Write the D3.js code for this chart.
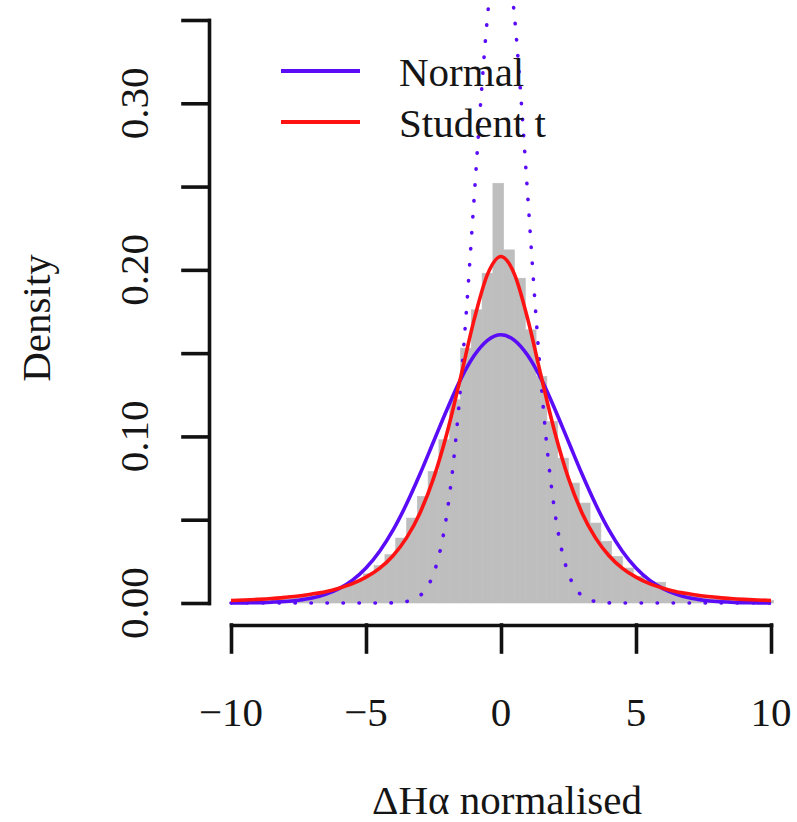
<!DOCTYPE html>
<html>
<head>
<meta charset="utf-8">
<script src="https://cdn.jsdelivr.net/npm/d3@7"></script>
<style>
  html, body { margin: 0; padding: 0; background: #ffffff; }
  svg { display: block; }
  text { font-family: "Liberation Serif", "Times New Roman", serif; fill: #151515; }
</style>
</head>
<body>
<script>
// Histogram of normalised ΔHα: bin edges and densities
const histBreaks = [-9.9, -9.5, -9.1, -8.7, -8.3, -7.9, -7.5, -7.1, -6.7, -6.3,
  -5.9, -5.5, -5.1, -4.7, -4.3, -3.9, -3.5, -3.1, -2.7, -2.3,
  -1.9, -1.5, -1.1, -0.7, -0.3, 0.1, 0.5, 0.9, 1.3, 1.7,
  2.1, 2.5, 2.9, 3.3, 3.7, 4.1, 4.5, 4.9, 5.3, 5.7,
  6.1, 6.5, 6.9, 7.3, 7.7, 8.1, 8.5, 8.9, 9.3, 9.7, 10.1];
const histDensity = [0.0016, 0.0018, 0.0021, 0.0025, 0.0030, 0.0035, 0.0044, 0.0052, 0.0063, 0.0080,
  0.0102, 0.0135, 0.0175, 0.0225, 0.0290, 0.0390, 0.0510, 0.0640, 0.0790, 0.0980,
  0.1220, 0.1530, 0.1760, 0.1980, 0.2520, 0.2120, 0.1950, 0.1640, 0.1360, 0.1090,
  0.0870, 0.0720, 0.0600, 0.0480, 0.0370, 0.0280, 0.0210, 0.0160, 0.0130, 0.0125,
  0.0072, 0.0060, 0.0047, 0.0040, 0.0033, 0.0027, 0.0023, 0.0019, 0.0016, 0.0015];

// Fitted density curves sampled along x
const curveX = [-10, -9.5, -9, -8.5, -8, -7.5, -7, -6.5, -6, -5.5, -5, -4.5, -4, -3.5, -3, -2.5, -2, -1.5, -1, -0.5,
  0, 0.5, 1, 1.5, 2, 2.5, 3, 3.5, 4, 4.5, 5, 5.5, 6, 6.5, 7, 7.5, 8, 8.5, 9, 9.5, 10];
const normalFit = [0.0000, 0.0001, 0.0002, 0.0005, 0.0009, 0.0017, 0.0030, 0.0052, 0.0086, 0.0137,
  0.0210, 0.0309, 0.0437, 0.0594, 0.0774, 0.0968, 0.1162, 0.1341, 0.1484, 0.1577,
  0.1610, 0.1577, 0.1484, 0.1341, 0.1162, 0.0968, 0.0774, 0.0594, 0.0437, 0.0309,
  0.0210, 0.0137, 0.0086, 0.0052, 0.0030, 0.0017, 0.0009, 0.0005, 0.0002, 0.0001, 0.0000];
const studentFit = [0.0015, 0.0018, 0.0022, 0.0027, 0.0034, 0.0042, 0.0054, 0.0068, 0.0089, 0.0116,
  0.0155, 0.0208, 0.0284, 0.0391, 0.0541, 0.0748, 0.1021, 0.1352, 0.1698, 0.1973,
  0.2080, 0.1973, 0.1698, 0.1352, 0.1021, 0.0748, 0.0541, 0.0391, 0.0284, 0.0208,
  0.0155, 0.0116, 0.0089, 0.0068, 0.0054, 0.0042, 0.0034, 0.0027, 0.0022, 0.0018, 0.0015];

// Unit normal reference curve (dotted)
const refX = [-10, -6, -4.5, -4, -3.5, -3, -2.75, -2.5, -2.25, -2, -1.75, -1.5, -1.25, -1, -0.75, -0.5, -0.25,
  0, 0.25, 0.5, 0.75, 1, 1.25, 1.5, 1.75, 2, 2.25, 2.5, 2.75, 3, 3.5, 4, 4.5, 6, 10];
const refNormal = [0, 0, 0, 0.0001, 0.0009, 0.0044, 0.0091, 0.0175, 0.0317, 0.0540, 0.0863, 0.1295, 0.1826,
  0.2420, 0.3011, 0.3521, 0.3867, 0.3989, 0.3867, 0.3521, 0.3011, 0.2420, 0.1826, 0.1295, 0.0863,
  0.0540, 0.0317, 0.0175, 0.0091, 0.0044, 0.0009, 0.0001, 0, 0, 0];

// Axis ticks and labels
const xTickValues = [-10, -5, 0, 5, 10];
const xTickLabels = ["\u221210", "\u22125", "0", "5", "10"];
const yTickValues = [0, 0.05, 0.10, 0.15, 0.20, 0.25, 0.30, 0.35];
const yLabelValues = [0, 0.10, 0.20, 0.30];
const yTickLabels = ["0.00", "0.10", "0.20", "0.30"];

const legendNames = ["Normal", "Student t"];
const legendColors = ["#5a0cf7", "#ff1212"];

const W = 797, H = 822;
const FS = 41;
const svg = d3.select("body").append("svg").attr("width", W).attr("height", H);
svg.append("rect").attr("width", W).attr("height", H).attr("fill", "#ffffff");

const x = d3.scaleLinear().domain([-10, 10]).range([231, 771]);
const y = d3.scaleLinear().domain([0, 0.35]).range([603, 20]);

// Histogram bars
const bins = histDensity.map((d, i) => ({ x0: histBreaks[i], x1: histBreaks[i + 1], d }));
svg.append("g").selectAll("rect").data(bins).join("rect")
  .attr("x", b => x(b.x0))
  .attr("y", b => y(b.d))
  .attr("width", b => x(b.x1) - x(b.x0))
  .attr("height", b => y(0) - y(b.d))
  .attr("fill", "#bebebe")
  .attr("stroke", "#bebebe")
  .attr("stroke-width", 0.6);

const line = (xs) => d3.line()
  .x((d, i) => x(xs[i]))
  .y(d => y(d))
  .curve(d3.curveMonotoneX);

// Dotted unit normal
svg.append("path").datum(refNormal)
  .attr("d", line(refX))
  .attr("fill", "none")
  .attr("stroke", legendColors[0])
  .attr("stroke-width", 3.6)
  .attr("stroke-linecap", "round")
  .attr("stroke-dasharray", "0.4,15.6");

// Normal fit
svg.append("path").datum(normalFit)
  .attr("d", line(curveX))
  .attr("fill", "none")
  .attr("stroke", legendColors[0])
  .attr("stroke-width", 3.6);

// Student t fit
svg.append("path").datum(studentFit)
  .attr("d", line(curveX))
  .attr("fill", "none")
  .attr("stroke", legendColors[1])
  .attr("stroke-width", 3.6);

// Y axis
const yAxis = svg.append("g").attr("transform", "translate(209,0)")
  .call(d3.axisLeft(y).tickValues(yTickValues).tickSize(26).tickSizeOuter(0).tickFormat(""));
yAxis.select(".domain").attr("stroke", "#111").attr("stroke-width", 3.6).attr("stroke-linecap", "square");
yAxis.selectAll(".tick line").attr("stroke", "#111").attr("stroke-width", 3.6).attr("stroke-linecap", "square");

svg.append("g").selectAll("text").data(yLabelValues).join("text")
  .attr("transform", d => `translate(148,${y(d)}) rotate(-90)`)
  .attr("text-anchor", "middle")
  .attr("font-size", FS)
  .text((d, i) => yTickLabels[i]);

// X axis
const xAxis = svg.append("g").attr("transform", "translate(0,625)")
  .call(d3.axisBottom(x).tickValues(xTickValues).tickSize(27).tickSizeOuter(0).tickFormat(""));
xAxis.select(".domain").attr("stroke", "#111").attr("stroke-width", 3.6).attr("stroke-linecap", "square");
xAxis.selectAll(".tick line").attr("stroke", "#111").attr("stroke-width", 3.6).attr("stroke-linecap", "square");

svg.append("g").selectAll("text").data(xTickValues).join("text")
  .attr("x", d => x(d))
  .attr("y", 726)
  .attr("text-anchor", "middle")
  .attr("font-size", FS)
  .text((d, i) => xTickLabels[i]);

// Axis titles
svg.append("text")
  .attr("x", x(0) + 6).attr("y", 814)
  .attr("text-anchor", "middle")
  .attr("font-size", FS)
  .text("\u0394H\u03b1 normalised");

svg.append("text")
  .attr("transform", "translate(50,318) rotate(-90)")
  .attr("text-anchor", "middle")
  .attr("font-size", FS)
  .text("Density");

// Legend
const legend = svg.append("g");
legendNames.forEach((name, i) => {
  const ly = 71 + i * 51;
  legend.append("line")
    .attr("x1", 281).attr("x2", 360)
    .attr("y1", ly).attr("y2", ly)
    .attr("stroke", legendColors[i])
    .attr("stroke-width", 4);
  legend.append("text")
    .attr("x", 399).attr("y", ly + 15)
    .attr("font-size", FS)
    .text(name);
});
</script>
</body>
</html>
